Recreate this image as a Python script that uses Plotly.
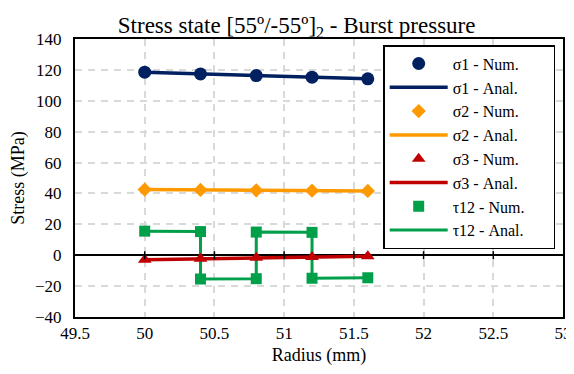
import plotly.graph_objects as go

radius = [50.0, 50.4, 50.8, 51.2, 51.6]
s1_num = [118.5, 117.4, 116.3, 115.3, 114.2]
s1_anal = [118.5, 117.4, 116.3, 115.3, 114.2]
s2_num = [42.5, 42.3, 42.0, 41.8, 41.6]
s2_anal = [42.5, 42.3, 42.0, 41.8, 41.6]
s3_num = [-2.9, -2.3, -1.7, -1.2, -0.6]
s3_anal = [-2.9, -2.3, -1.7, -1.2, -0.6]
t12_r = [50.0, 50.4, 50.4, 50.8, 50.8, 51.2, 51.2, 51.6]
t12_num = [15.6, 15.3, -15.4, -15.2, 15.0, 14.8, -14.9, -14.6]
t12_anal = [15.6, 15.3, -15.4, -15.2, 15.0, 14.8, -14.9, -14.6]

x_ticks = [49.5, 50, 50.5, 51, 51.5, 52, 52.5, 53]
y_ticks = [-40, -20, 0, 20, 40, 60, 80, 100, 120, 140]

C1, C2, C3, C4 = "#002060", "#FF9900", "#C00000", "#00A04A"
FONT = "Liberation Serif"
PAD = "\u00a0" * 6

fig = go.Figure()
lines = [("σ1 - Anal.", radius, s1_anal, C1, 3.5),
         ("σ2 - Anal.", radius, s2_anal, C2, 3.5),
         ("σ3 - Anal.", radius, s3_anal, C3, 3.5),
         ("τ12 - Anal.", t12_r, t12_anal, C4, 3)]
marks = [("σ1 - Num.", radius, s1_num, C1, "circle", 13),
         ("σ2 - Num.", radius, s2_num, C2, "diamond", 11),
         ("σ3 - Num.", radius, s3_num, C3, "triangle-up", 12),
         ("τ12 - Num.", t12_r, t12_num, C4, "square", 11)]
order = ["σ1 - Num.", "σ1 - Anal.", "σ2 - Num.", "σ2 - Anal.",
         "σ3 - Num.", "σ3 - Anal.", "τ12 - Num.", "τ12 - Anal."]
for name, xs, ys, c, w in lines:
    fig.add_trace(go.Scatter(x=xs, y=ys, mode="lines", name=name + PAD,
                             line=dict(color=c, width=w),
                             legendrank=order.index(name)))
for name, xs, ys, c, sym, sz in marks:
    fig.add_trace(go.Scatter(x=xs, y=ys, mode="markers", name=name + PAD,
                             marker=dict(symbol=sym, size=sz, color=c),
                             legendrank=order.index(name)))

# tick marks crossing the zero line (x axis crosses at y=0)
for xt in x_ticks[1:-1]:
    fig.add_shape(type="line", xref="x", yref="y", x0=xt, x1=xt,
                  ysizemode="pixel", yanchor=0, y0=-4, y1=4,
                  line=dict(color="black", width=1.5))

# page body has an 8px margin: figure is sized to fit the window after it
fig.update_layout(
    width=566, height=366,
    margin=dict(l=67, r=11, t=31, b=57),
    paper_bgcolor="white", plot_bgcolor="white",
    title=dict(text="Stress state [55º/-55º]<sub>2</sub> - Burst pressure",
               x=0.51, xanchor="center", y=0.975, yanchor="top",
               font=dict(size=23, family=FONT, color="black")),
    showlegend=True,
    legend=dict(x=0.984, xanchor="right", y=0.978, yanchor="top",
                bgcolor="white", bordercolor="black", borderwidth=1.5,
                font=dict(size=16, family=FONT, color="black"), itemwidth=58,
                tracegroupgap=0, traceorder="normal"),
)
fig.update_xaxes(range=[49.5, 53], tickvals=x_ticks,
                 ticktext=[f"{v:g}" for v in x_ticks], automargin=False,
                 tickfont=dict(size=17, family=FONT, color="black"),
                 showgrid=True, gridcolor="#D9D9D9", gridwidth=1.5, griddash="7px,6px",
                 showline=True, linecolor="black", linewidth=2, mirror=True,
                 zeroline=False, ticks="",
                 title=dict(text="Radius (mm)", font=dict(size=18, family=FONT, color="black"), standoff=6))
fig.update_yaxes(range=[-40, 140], tickvals=y_ticks, automargin=False,
                 tickfont=dict(size=17, family=FONT, color="black"), ticklabelstandoff=8,
                 showgrid=True, gridcolor="#D9D9D9", gridwidth=1.5, griddash="7px,6px",
                 showline=True, linecolor="black", linewidth=2, mirror=True,
                 zeroline=True, zerolinecolor="black", zerolinewidth=1.5, ticks="",
                 title=dict(text="Stress (MPa)", font=dict(size=18, family=FONT, color="black"), standoff=8))

fig.write_html("out.html")
